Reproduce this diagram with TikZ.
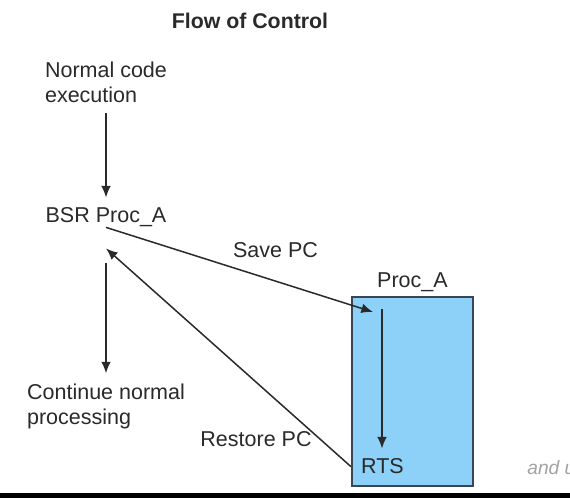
\documentclass[tikz,border=0pt]{standalone}
\usepackage{fontspec}
\setmainfont{Liberation Sans}
\usetikzlibrary{arrows.meta,positioning}
\definecolor{ink}{HTML}{2A2A2A}
\definecolor{procblue}{HTML}{8DD0F8}
\definecolor{procedge}{HTML}{3B4654}
\definecolor{fade}{HTML}{A3A3A3}

\begin{document}
\begin{tikzpicture}[x=.5pt,y=.5pt,>={Latex[length=5.8pt,width=4.8pt]},
      txt/.style={font=\fontsize{10.75}{12.5}\selectfont,text=ink,inner sep=5pt,
                  align=left,text depth=0pt},
      flow/.style={->,line width=.75pt,draw=ink},
      procbox/.style={draw=procedge,fill=procblue,line width=.7pt,minimum width=60.5pt,
                  minimum height=94.5pt,inner sep=0pt}]
    \clip (0,0) rectangle (570,498);
    \fill[white] (0,0) rectangle (570,498);
    \fill[black] (0,0) rectangle (570,5);
    \node[txt,anchor=base,font=\fontsize{10.65}{12.5}\selectfont\bfseries] (title) at (250,469) {Flow of Control};
    \node[txt,anchor=north] (normal) at (106,446.4) {Normal code\\execution};
    \node[txt,anchor=base] (bsr) at (106,275) {BSR Proc\_A};
    \node[txt,anchor=north] (cont) at (106,124.6) {Continue normal\\processing};
    \node[procbox] (procA) at (412.5,106.5) {};
    \node[txt,anchor=base] (proclbl) at ([yshift=4.5pt]procA.north) {Proc\_A};
    \coordinate (entry) at (382,189);
    \node[txt,anchor=base] (rts) at (382.5,24) {RTS};
    \node[txt,anchor=base] (savelbl) at (275.5,240) {Save PC};
    \node[txt,anchor=base] (restlbl) at (256,51) {Restore PC};
    \node[txt,anchor=base west,inner sep=0pt,font=\fontsize{9.6}{11}\selectfont\itshape,text=fade] (more) at (527,23) {and u};
    \draw[flow] (normal.south) -- (bsr.north);
    \draw[flow] ([yshift=3pt]bsr.south) -- ([xshift=-4.5pt,yshift=-1.5pt]entry);
    \draw[flow] ([yshift=-15pt]bsr.south) -- (cont.north);
    \draw[flow] (entry) -- (entry |- rts.north);
    \draw[flow] (rts.west) -- ([yshift=-7.5pt]bsr.south);
\end{tikzpicture}
\end{document}
